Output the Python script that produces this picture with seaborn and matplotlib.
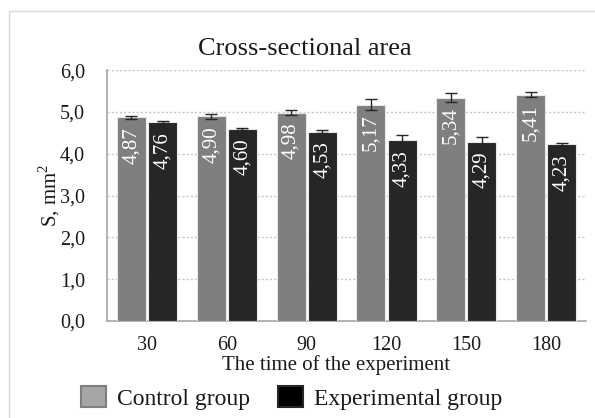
import matplotlib
matplotlib.use('Agg')
import matplotlib.pyplot as plt
import seaborn as sns
import pandas as pd
from matplotlib.patches import Patch, Rectangle
from matplotlib.ticker import FuncFormatter

times = ['30', '60', '90', '120', '150', '180']
control = [4.87, 4.90, 4.98, 5.17, 5.34, 5.41]
experimental = [4.76, 4.60, 4.53, 4.33, 4.29, 4.23]
control_err = [0.03, 0.06, 0.06, 0.13, 0.11, 0.06]
experimental_err = [0.025, 0.025, 0.04, 0.12, 0.11, 0.04]
groups = ['Control group', 'Experimental group']


def main():
    df = pd.DataFrame({
        'time': times * 2,
        'value': control + experimental,
        'err': control_err + experimental_err,
        'group': [groups[0]] * len(times) + [groups[1]] * len(times),
    })
    plotting(df)


def plotting(df):
    serif = ['Liberation Serif', 'DejaVu Serif']
    sns.set_style('white')
    plt.rcParams['font.family'] = serif
    plt.rcParams['mathtext.fontset'] = 'custom'
    plt.rcParams['mathtext.rm'] = 'Liberation Serif'

    fig = plt.figure(figsize=(5.95, 4.18), dpi=100)
    ax = fig.add_axes([0.18, 0.232, 0.805, 0.6])

    pal = ['#7f7f7f', '#262626']
    sns.barplot(data=df, x='time', y='value', hue='group', order=times,
                hue_order=groups, palette=pal, width=0.78, gap=0.07,
                errorbar=None, edgecolor='#e8e8e8', linewidth=0.8,
                legend=False, ax=ax, zorder=3)

    # error bars and value labels from the drawn bars
    for container, g in zip(ax.containers, groups):
        sub = df[df['group'] == g].set_index('time').loc[times]
        for bar, val, err in zip(container, sub['value'], sub['err']):
            xc = bar.get_x() + bar.get_width() / 2
            ax.errorbar(xc, val, yerr=err, color='#262626', capsize=4,
                        elinewidth=1, capthick=1, zorder=4)
            ax.annotate(f'{val:.2f}'.replace('.', ','), (xc, val),
                        xytext=(0, -7), textcoords='offset points',
                        rotation=90, ha='center', va='top', color='white',
                        fontsize=15, zorder=5)

    ax.set_xlim(-0.5, len(times) - 0.5)
    ax.set_ylim(0, 6)
    ax.set_yticks([0, 1, 2, 3, 4, 5, 6])
    ax.yaxis.set_major_formatter(FuncFormatter(lambda v, p: f'{v:.1f}'.replace('.', ',')))
    ax.grid(axis='y', color='#b4c7e7', linestyle=(0, (1.5, 1.5)), linewidth=1, zorder=0)
    ax.set_axisbelow(True)
    ax.tick_params(axis='both', length=0, labelsize=14.5, colors='#1a1a1a')
    ax.tick_params(axis='y', pad=16)
    ax.tick_params(axis='x', pad=11)

    for s in ['top', 'right']:
        ax.spines[s].set_visible(False)
    for s in ['left', 'bottom']:
        ax.spines[s].set_color('#a6a6a6')
        ax.spines[s].set_linewidth(1.2)

    ax.set_xlabel('The time of the experiment', fontsize=15, labelpad=0, color='#1a1a1a')
    ax.xaxis.label.set_x(0.478)
    ax.set_ylabel('S, mm$^2$', fontsize=15, color='#1a1a1a')
    ax.yaxis.set_label_coords(-0.095, 0.5)
    ax.set_title('Cross-sectional area', fontsize=19, pad=11, color='#1a1a1a', x=0.413)

    handles = [Patch(facecolor='#a6a6a6', edgecolor='#7f7f7f', linewidth=1.5, label=groups[0]),
               Patch(facecolor='#000000', edgecolor='#262626', linewidth=1.5, label=groups[1])]
    fig.legend(handles=handles, loc='center', bbox_to_anchor=(0.49, 0.048), ncol=2,
               frameon=False, fontsize=17, handlelength=1.05, handleheight=0.95,
               handletextpad=0.45, columnspacing=1.2, labelcolor='#1a1a1a')

    # chart area frame
    fig.patches.append(Rectangle((9 / 595, -0.1), 1.2, 1 - 11 / 418 + 0.1,
                                 transform=fig.transFigure, fill=False,
                                 edgecolor='#d9d9d9', linewidth=1))

    fig.savefig('out.png', dpi=100)
    plt.close(fig)


if __name__ == '__main__':
    main()
